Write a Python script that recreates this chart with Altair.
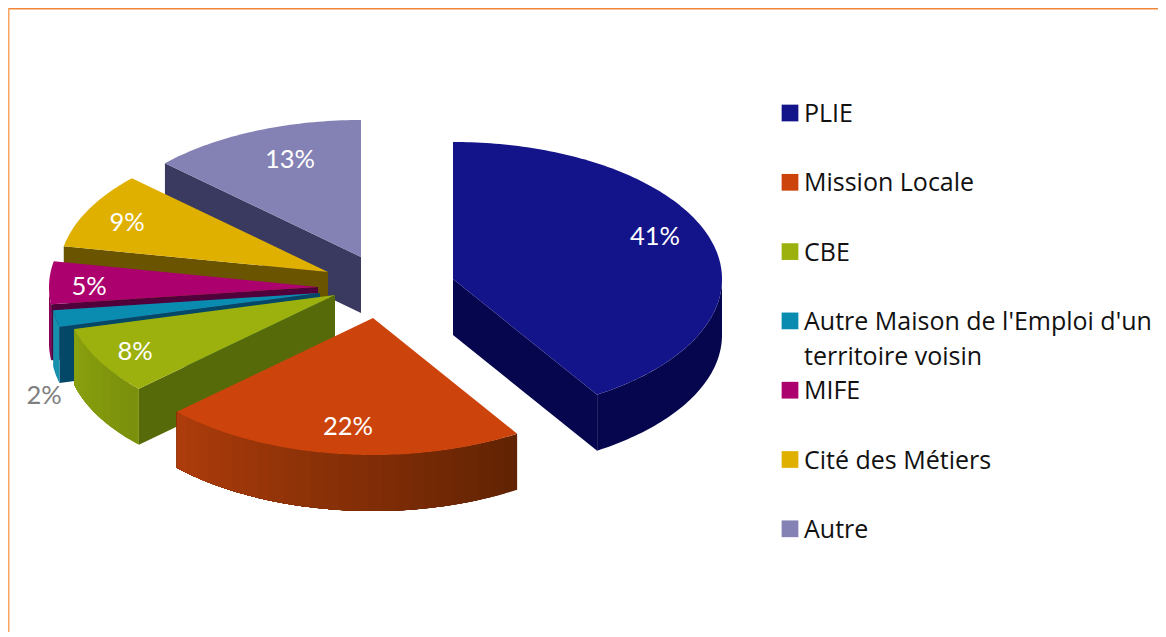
import math
import altair as alt

# ---- chart values -------------------------------------------------------
categories = ["PLIE", "Mission Locale", "CBE",
              "Autre Maison de l'Emploi d'un\nterritoire voisin",
              "MIFE", "Cité des Métiers", "Autre"]
values = [41, 22, 8, 2, 5, 9, 13]

# ---- styles -------------------------------------------------------------
top_colors = ["#14148a", "#cc440c", "#9cb10e", "#0a8cb0", "#ac006e", "#e0b000", "#8482b4"]
radial_colors = ["#06064e", "#5a2206", "#566a0a", "#034866", "#50003a", "#6a5400", "#3a3a60"]
rim_from = ["#06064e", "#612303", "#7a8f0c", "#1790ad", "#8a005a", "#b08a00", "#666690"]
rim_to = ["#06064e", "#ad3c0c", "#8ba10e", "#1790ad", "#8a005a", "#b08a00", "#666690"]
legend_colors = ["#14148a", "#cc440c", "#9cb10e", "#0a8cb0", "#ac006e", "#e0b000", "#8482b4"]
label_colors = ["white", "white", "white", "#808080", "white", "white", "white"]
FONT = "Lato"
LEGEND_FONT = "Open Sans"

# ---- layout (page pixels, converted to chart pixels below) --------------
W, H = 1150, 624
OFF = 8
A, B, DEPTH = 269, 137, 56
apex = [(453, 279), (373, 318), (335, 295), (320, 293), (318, 287), (328, 272), (361, 257)]
label_xy = [(655, 237), (348, 427), (135, 352), (44, 396), (89, 287), (127, 223), (290, 160)]


def mix(c1, c2, f):
    a = [int(c1[i:i + 2], 16) for i in (1, 3, 5)]
    b = [int(c2[i:i + 2], 16) for i in (1, 3, 5)]
    return "#" + "".join(f"{round(x + (y - x) * f):02x}" for x, y in zip(a, b))


def rim(i, t, dz=0):
    ax, ay = apex[i]
    r = math.radians(t)
    return [ax + A * math.sin(r) - OFF, ay - B * math.cos(r) + dz - OFF]


def arc(i, t0, t1, dz=0):
    n = max(2, int(abs(t1 - t0)))
    return [rim(i, t0 + (t1 - t0) * k / n, dz) for k in range(n + 1)]


def poly(points, fill):
    ring = [list(p) for p in points]
    ring.append(ring[0])
    return {"type": "Feature",
            "properties": {"fill": fill},
            "geometry": {"type": "Polygon", "coordinates": [ring]}}


def center(i, dz=0):
    return [apex[i][0] - OFF, apex[i][1] - OFF + dz]


total = sum(values)
starts, cum = [], 0
for v in values:
    starts.append(cum / total * 360)
    cum += v
ends = [s + v / total * 360 for s, v in zip(starts, values)]

features = []
for i in [6, 5, 4, 3, 2, 1, 0]:
    s, e = starts[i], ends[i]
    # radial wall that faces the viewer
    if e <= 180:
        features.append(poly([center(i), rim(i, e), rim(i, e, DEPTH), center(i, DEPTH)], radial_colors[i]))
    if s >= 180:
        features.append(poly([center(i), rim(i, s), rim(i, s, DEPTH), center(i, DEPTH)], radial_colors[i]))
    # outer wall, front half only; each strip runs under the next so no seams show
    lo, hi = max(s, 90), min(e, 270)
    if hi > lo:
        n = 1 if rim_from[i] == rim_to[i] else max(2, int((hi - lo) / 3))
        for k in range(n):
            t0 = lo + (hi - lo) * k / n
            col = mix(rim_from[i], rim_to[i], (k + .5) / n)
            features.append(poly(arc(i, t0, hi) + arc(i, hi, t0, DEPTH), col))
    # top face
    features.append(poly([center(i)] + arc(i, s, e), top_colors[i]))

slices = alt.Chart(alt.InlineData(
    values={"type": "FeatureCollection", "features": features},
    format=alt.DataFormat(type="json", property="features"),
)).mark_geoshape(strokeWidth=0).encode(
    fill=alt.Fill("properties.fill:N", scale=None),
).project(type="identity", scale=1, translate=[0, 0])

xs = alt.Scale(domain=[0, W], range=[0, W])
ys = alt.Scale(domain=[0, H], range=[0, H])
xenc = lambda f: alt.X(f, type="quantitative", scale=xs, axis=None)
yenc = lambda f: alt.Y(f, type="quantitative", scale=ys, axis=None)

labels = alt.Chart(alt.Data(values=[
    {"t": f"{v}%", "x": p[0] - OFF, "y": p[1] - OFF, "c": c}
    for v, p, c in zip(values, label_xy, label_colors)
])).mark_text(font=FONT, fontSize=25.5, align="center", baseline="middle").encode(
    x=xenc("x"), y=yenc("y"), text="t:N", color=alt.Color("c:N", scale=None))

ROW0, ROWH = 113.0, 69.3
rows = [{"name": n, "x": 790 - OFF, "tx": 804 - OFF, "y": ROW0 + ROWH * i - OFF, "by": ROW0 + ROWH * i + 9 - OFF, "c": c}
        for i, (n, c) in enumerate(zip(categories, legend_colors))]
swatches = alt.Chart(alt.Data(values=rows)).mark_square(size=280, opacity=1).encode(
    x=xenc("x"), y=yenc("y"), color=alt.Color("c:N", scale=None))
names = alt.Chart(alt.Data(values=rows)).mark_text(
    font=LEGEND_FONT, fontSize=25, align="left", baseline="alphabetic", color="#111111",
    lineBreak="\n", lineHeight=35).encode(x=xenc("tx"), y=yenc("by"), text="name:N")

frame = alt.Chart(alt.Data(values=[
    {"x": 0, "x2": W, "y": 0.5, "y2": 0.5, "c": "#f0873a"},
    {"x": 0.5, "x2": 0.5, "y": 0, "y2": H, "c": "#f8a560"},
])).mark_rule(strokeWidth=2).encode(
    x=xenc("x"), x2="x2:Q", y=yenc("y"), y2="y2:Q", color=alt.Color("c:N", scale=None))

chart = alt.layer(frame, slices, labels, swatches, names).properties(
    width=W, height=H, padding=0, autosize=alt.AutoSizeParams(type="none"), background="white",
).configure_view(stroke=None)

chart.save("out.html", embed_options={"renderer": "svg", "actions": False})
